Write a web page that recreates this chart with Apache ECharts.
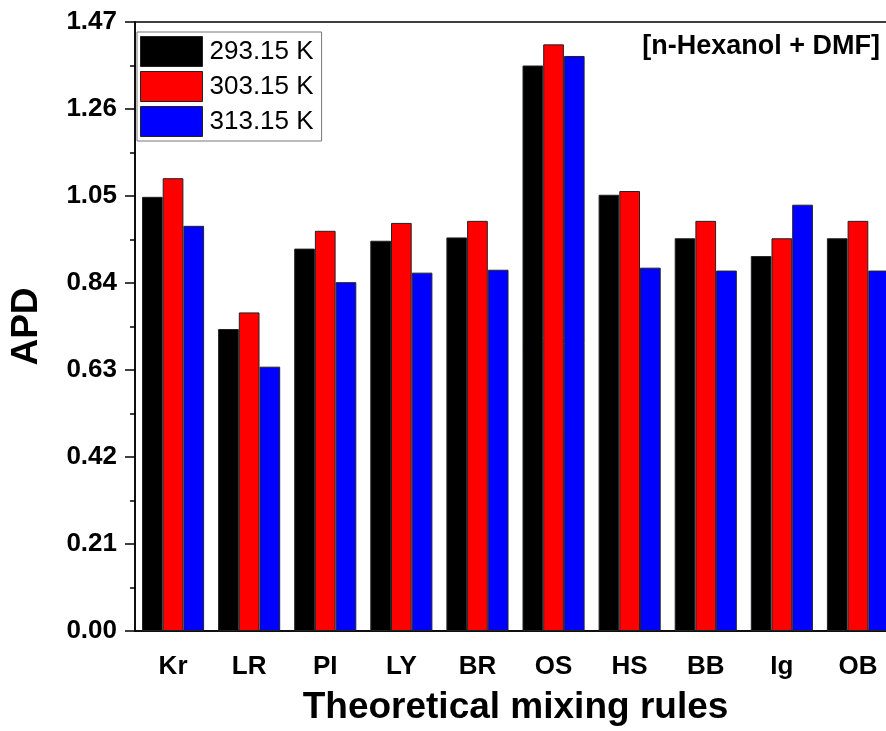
<!DOCTYPE html>
<html>
<head>
<meta charset="utf-8">
<script src="https://cdn.jsdelivr.net/npm/echarts@6/dist/echarts.min.js"></script>
<style>
  html, body { margin: 0; padding: 0; background: #fff; overflow: hidden; }
  /* plot frame runs slightly past the right edge of the window */
  #chart { width: 900px; height: 731px; }
</style>
</head>
<body>
<div id="chart"></div>
<script>
// Mixing rules compared
const categories = ['Kr', 'LR', 'PI', 'LY', 'BR', 'OS', 'HS', 'BB', 'Ig', 'OB'];

// APD at each temperature
const apd293 = [1.048, 0.729, 0.923, 0.942, 0.950, 1.365, 1.053, 0.948, 0.905, 0.948];
const apd303 = [1.093, 0.769, 0.966, 0.985, 0.990, 1.416, 1.062, 0.990, 0.948, 0.990];
const apd313 = [0.978, 0.638, 0.842, 0.865, 0.872, 1.388, 0.877, 0.870, 1.029, 0.870];

const seriesNames = ['293.15 K', '303.15 K', '313.15 K'];
const seriesColors = ['#000000', '#ff0000', '#0000ff'];

// y-axis ticks: 0.00 to 1.47 in steps of 0.21
const yMin = 0, yMax = 1.47, yStep = 0.21;

const FONT = 'Liberation Sans, Arial, sans-serif';
const chart = echarts.init(document.getElementById('chart'), null, { renderer: 'canvas' });

const dataSets = [apd293, apd303, apd313];

chart.setOption({
  backgroundColor: '#ffffff',
  animation: false,
  grid: {
    left: 130, top: 22, width: 766, height: 612,
    show: true, borderColor: '#000', borderWidth: 1.5, backgroundColor: 'transparent'
  },
  legend: {
    orient: 'vertical',
    left: 137, top: 32,
    padding: [4, 8, 4, 3],
    itemWidth: 62, itemHeight: 30, itemGap: 4,
    borderColor: '#777', borderWidth: 1,
    icon: 'rect',
    textStyle: { fontFamily: FONT, fontSize: 26, color: '#000', padding: [0, 0, 0, 2] },
    data: seriesNames.map((n, i) => ({
      name: n,
      itemStyle: { color: seriesColors[i], borderColor: '#222', borderWidth: 1 }
    }))
  },
  graphic: [{
    type: 'text',
    right: 20, top: 33,
    style: {
      text: '[n-Hexanol + DMF]',
      font: 'bold 27px ' + FONT,
      fill: '#000'
    }
  }],
  xAxis: [{
    type: 'category',
    data: categories,
    name: 'Theoretical mixing rules',
    nameLocation: 'middle',
    nameGap: 58,
    nameTextStyle: { fontFamily: FONT, fontSize: 37, fontWeight: 'bold', color: '#000' },
    axisLine: { lineStyle: { color: '#000', width: 1.5 } },
    axisTick: { alignWithLabel: true, length: 9, lineStyle: { color: '#000', width: 1.5 } },
    axisLabel: { fontFamily: FONT, fontSize: 26, fontWeight: 'bold', color: '#000', margin: 23 },
    splitLine: { show: false }
  }, {
    // boundary ticks between categories
    type: 'category',
    data: categories,
    position: 'bottom',
    axisLine: { show: false },
    axisTick: { length: 5, lineStyle: { color: '#000', width: 1.5 } },
    axisLabel: { show: false },
    splitLine: { show: false }
  }],
  yAxis: {
    type: 'value',
    min: yMin, max: yMax, interval: yStep,
    name: 'APD',
    nameLocation: 'middle',
    nameGap: 90,
    nameTextStyle: { fontFamily: FONT, fontSize: 37, fontWeight: 'bold', color: '#000' },
    axisLine: { show: true, lineStyle: { color: '#000', width: 1.5 } },
    axisTick: { show: true, length: 10, lineStyle: { color: '#000', width: 1.5 } },
    minorTick: { show: true, splitNumber: 2, length: 5, lineStyle: { color: '#000', width: 1.5 } },
    axisLabel: {
      fontFamily: FONT, fontSize: 26, fontWeight: 'bold', color: '#000', margin: 18,
      formatter: v => v.toFixed(2)
    },
    splitLine: { show: false }
  },
  series: dataSets.map((d, i) => ({
    name: seriesNames[i],
    type: 'bar',
    xAxisIndex: 0,
    data: d,
    barWidth: 20.7,
    barGap: '0%',
    itemStyle: { color: seriesColors[i], borderColor: '#222', borderWidth: 1 }
  }))
});
</script>
</body>
</html>
